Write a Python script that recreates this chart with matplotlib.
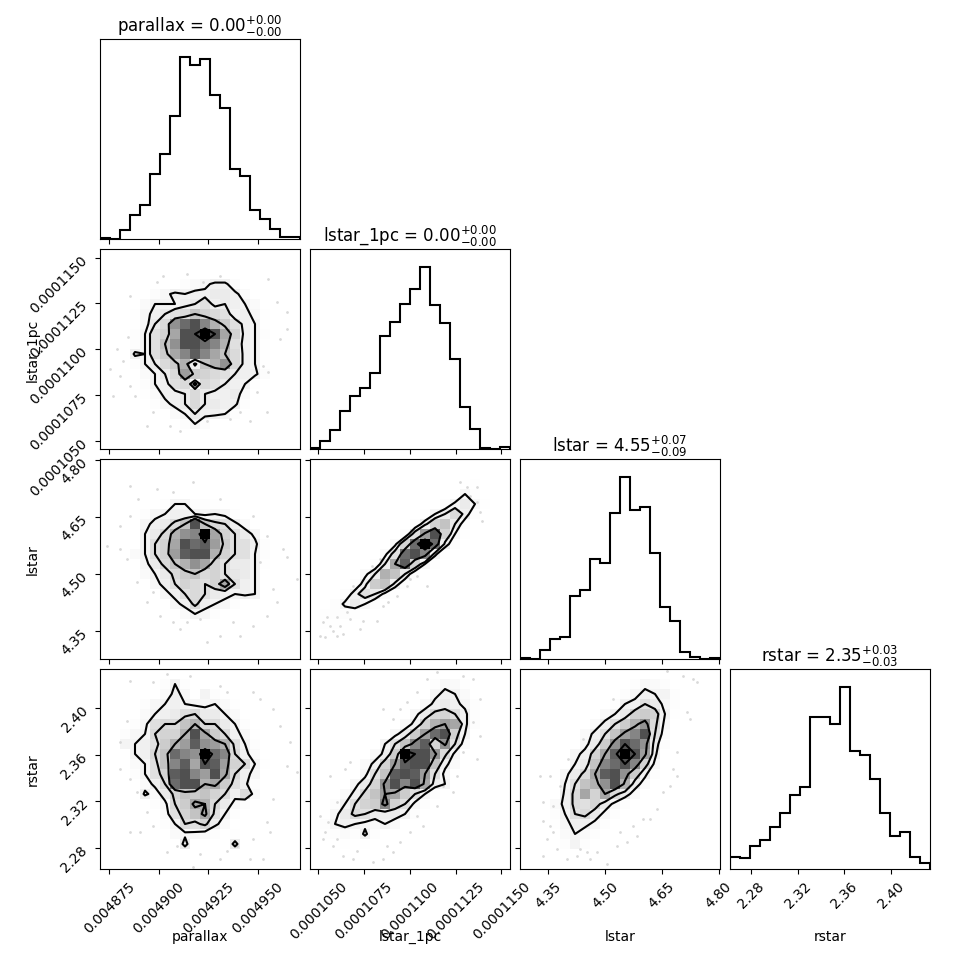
import numpy as np
import matplotlib
matplotlib.use("Agg")
import matplotlib.pyplot as plt
from matplotlib.colors import LinearSegmentedColormap
from matplotlib.ticker import MaxNLocator, ScalarFormatter

labels = ["parallax", "lstar_1pc", "lstar", "rstar"]
ranges = [(0.0048703, 0.0049714), (1.04546e-4, 1.15475e-4), (4.2761, 4.8036), (2.2619, 2.4336)]
medians = [0.0049, 0.00011, 4.55, 2.35]
err_lo = [0.00002, 0.000002, 0.09, 0.03]
err_hi = [0.00002, 0.000002, 0.07, 0.03]

# 1d histogram counts (20 bins over each range)
hist_parallax = [1, 0, 8, 21, 30, 58, 76, 110, 162, 155, 160, 128, 117, 62, 56, 26, 18, 9, 2, 2]
hist_lstar_1pc = [1, 7, 16, 32, 45, 52, 65, 96, 108, 124, 136, 155, 123, 107, 77, 36, 17, 1, 0, 2]
hist_lstar = [1, 0, 9, 20, 22, 62, 68, 99, 95, 145, 180, 148, 150, 105, 51, 38, 7, 2, 0, 1]
hist_rstar = [10, 9, 19, 24, 35, 47, 62, 69, 128, 128, 122, 153, 99, 96, 76, 47, 28, 31, 10, 5]

# 2d histogram counts, base-36 digits, top row = highest y bin
grid_parallax_lstar1pc = [
    "00000000000000000000", "00000000000000000000", "00000000000000000000",
    "00000000245773000000", "00000357677887400000", "0000466678a787640000",
    "0001578abecba6751000", "000158bjmokgda761000", "00026achootohc762000",
    "00026aejoomkga761000", "00076adhknkheb761000", "000268bdg7egjb761000",
    "0000468bidcba8773000", "0000267ab5ba87610000", "000014778b8778400000",
    "000002578b8877200000", "00000004687762000000", "00000000263000000000",
    "00000000000000000000", "00000000000000000000",
]
grid_parallax_lstar = [
    "00000000000000000000", "00000000000000000000", "00000000000000000000",
    "00000000000000000000", "00000026622100000000", "00002567765652000000",
    "0000578beoeba7400000", "000068bgjkthca850000", "00006achomnidaa72000",
    "00046acinoogcaa62000", "000058begjhca8861000", "0000468bdebca9860000",
    "0000057acbacha760000", "00000057aba876760000", "000000057b7652000000",
    "00000000465200000000", "00000000000000000000", "00000000000000000000",
    "00000000000000000000", "00000000000000000000",
]
grid_lstar1pc_lstar = [
    "00000000000000000000", "00000000000000000000", "00000000000000001000",
    "00000000000000052000", "00000000000002685100", "00000000000158b72000",
    "000000000027ce830000", "0000000002aioc510000", "000000004cmtm7200000",
    "00000004amok61000000", "00000028hnc510000000", "0000048ge82000000000",
    "000027de720000000000", "00027a84100000000000", "00268520000000000000",
    "01221000000000000000", "01100000000000000000", "00000000000000000000",
    "00000000000000000000", "00000000000000000000",
]
grid_parallax_rstar = [
    "00000000000000000000", "00000026200000000000", "00000047506200000000",
    "00002567655641000000", "00004678ab8864000000", "00025abbegbb86200000",
    "00256bccgohdb7510000", "00667adginjiga620000", "00067bemkjtmkb740000",
    "00046aeknhonicb61000", "00026acnokiohb750000", "000047bmooghda720000",
    "0000748cedecb7b40000", "0000025bdhgb85200000", "0000004aceha62000000",
    "00000026bac740000000", "00000004554201000000", "00000000800008000000",
    "00000000000000000000", "00000000000000000000",
]
grid_lstar1pc_rstar = [
    "00000000000000000000", "00000000000025410000", "00000000000057640000",
    "00000000000478752000", "000000000058bca72000", "00000000047cgih72000",
    "0000000058dimoc60000", "00000006aekncja40000", "00000047dtoojb500000",
    "0000047cinooe7400000", "000005aenonia5000000", "000058cjokoh86000000",
    "00047beihda620000000", "0026acdkca5200000000", "0058ba87862000000000",
    "02676546400000000000", "01242720000000000000", "00010100000000000000",
    "00000000000000000000", "00000000000000000000",
]
grid_lstar_rstar = [
    "00000000000000000000", "00000000000254200000", "00000000002576620000",
    "000000000267a8520000", "00000000468cdc610000", "000000047adgjb500000",
    "00000047aeikoa400000", "00000058djomj8200000", "0000057chntoi7000000",
    "0000068ekmokc5000000", "000058bhnojd72000000", "00006aegjog840000000",
    "00007bhchb8400000000", "00047bac852000000000", "00026ab8520000000000",
    "00015775200000000000", "00004642000000000000", "00002620000000000000",
    "00000000000000000000", "00000000000000000000",
]

# samples lying outside the outer contours
pts_parallax_lstar1pc_x = [0.0048989, 0.0048855, 0.0048846, 0.0048804, 0.0048880, 0.0048973, 0.0049107,
                           0.0049242, 0.0049411, 0.0049545, 0.0049554, 0.0049613, 0.0049646, 0.0049554,
                           0.0049225, 0.0049377, 0.0049528, 0.0048754, 0.0049141, 0.0049461,
                           0.0049023, 0.0049309, 0.0048787, 0.0048821, 0.0048855, 0.0048770, 0.0048939,
                           0.0049057, 0.0049360, 0.0049495, 0.0049646, 0.0049596]
pts_parallax_lstar1pc_y = [1.13654e-4, 1.12925e-4, 1.10648e-4, 1.08553e-4, 1.07460e-4, 1.06550e-4, 1.05548e-4,
                           1.06094e-4, 1.06550e-4, 1.06550e-4, 1.08735e-4, 1.10557e-4, 1.12014e-4, 1.13836e-4,
                           1.13654e-4, 1.13016e-4, 1.09100e-4, 1.08918e-4, 1.14109e-4, 1.06094e-4,
                           1.14018e-4, 1.14018e-4, 1.10010e-4, 1.09373e-4, 1.08007e-4, 1.07460e-4, 1.05821e-4,
                           1.05821e-4, 1.06185e-4, 1.07643e-4, 1.11103e-4, 1.12561e-4]
pts_parallax_lstar_x = [0.0048855, 0.0048897, 0.0049074, 0.0048804, 0.0048838, 0.0048888, 0.0048973,
                        0.0049074, 0.0049141, 0.0049208, 0.0049309, 0.0049377, 0.0049478, 0.0049545,
                        0.0049596, 0.0049646, 0.0049579, 0.0049512, 0.0049697, 0.0048737,
                        0.0048804, 0.0048855, 0.0048989, 0.0049175, 0.0049309, 0.0049478, 0.0049545,
                        0.0049630, 0.0049411, 0.0049107, 0.0049006, 0.0048939, 0.0049242]
pts_parallax_lstar_y = [4.7333, 4.6981, 4.7157, 4.5662, 4.5398, 4.4783, 4.4519, 4.3728, 4.3728, 4.3816,
                        4.3376, 4.3728, 4.3640, 4.3904, 4.4255, 4.5442, 4.4607, 4.5310, 4.4871, 4.5750,
                        4.6278, 4.6541, 4.7245, 4.7421, 4.6981, 4.6541, 4.6014, 4.5662, 4.3376, 4.3552,
                        4.3904, 4.4255, 4.3200]
pts_lstar1pc_lstar_x = [1.05275e-4, 1.05639e-4, 1.05821e-4, 1.05366e-4, 1.06003e-4, 1.06368e-4, 1.06732e-4,
                        1.07460e-4, 1.08189e-4, 1.08827e-4, 1.09828e-4, 1.10375e-4, 1.13107e-4, 1.13654e-4,
                        1.13654e-4, 1.13927e-4, 1.07916e-4, 1.08371e-4, 1.06914e-4, 1.06003e-4,
                        1.05092e-4, 1.05457e-4, 1.06185e-4, 1.06550e-4, 1.07278e-4, 1.08553e-4, 1.09282e-4,
                        1.10011e-4, 1.10921e-4, 1.13289e-4, 1.13836e-4, 1.12743e-4]
pts_lstar1pc_lstar_y = [4.3728, 4.3640, 4.3508, 4.3332, 4.3860, 4.3420, 4.3816, 4.3772, 4.3772, 4.4255,
                        4.4695, 4.4959, 4.7289, 4.7289, 4.6893, 4.6409, 4.5223, 4.5398, 4.4695, 4.3376,
                        4.3376, 4.3860, 4.3640, 4.3992, 4.3552, 4.4168, 4.4431, 4.4871, 4.4695, 4.7069,
                        4.6629, 4.7421]
pts_parallax_rstar_x = [0.0048855, 0.0049040, 0.0049158, 0.0049343, 0.0049512, 0.0049613, 0.0048838,
                        0.0048804, 0.0048855, 0.0048939, 0.0048905, 0.0049040, 0.0049208, 0.0049343,
                        0.0049461, 0.0049528, 0.0049562, 0.0049646, 0.0049697, 0.0049545, 0.0049175,
                        0.0049309, 0.0048804, 0.0048888, 0.0048855, 0.0048973, 0.0049090, 0.0049309,
                        0.0049394, 0.0049478, 0.0049579, 0.0049663, 0.0049478, 0.0048973, 0.0049579]
pts_parallax_rstar_y = [2.4236, 2.4293, 2.4279, 2.4136, 2.4078, 2.3850, 2.3892, 2.3477, 2.3392, 2.3105,
                        2.2934, 2.2762, 2.2748, 2.2776, 2.2705, 2.2705, 2.2934, 2.3506, 2.3449, 2.3020,
                        2.2633, 2.4193, 2.3706, 2.3277, 2.2934, 2.2991, 2.2819, 2.2705, 2.2819, 2.2877,
                        2.3220, 2.3706, 2.4136, 2.4222, 2.3993]
pts_lstar1pc_rstar_x = [1.08553e-4, 1.09100e-4, 1.09828e-4, 1.10375e-4, 1.11468e-4, 1.12925e-4, 1.13471e-4,
                        1.13836e-4, 1.13471e-4, 1.13654e-4, 1.12561e-4, 1.12378e-4, 1.11468e-4, 1.10739e-4,
                        1.09464e-4, 1.09100e-4, 1.08553e-4, 1.08007e-4, 1.07096e-4, 1.06003e-4, 1.05548e-4,
                        1.05639e-4, 1.06459e-4, 1.06003e-4, 1.05275e-4, 1.06732e-4,
                        1.05092e-4, 1.05366e-4, 1.05821e-4, 1.06368e-4, 1.06914e-4, 1.08735e-4, 1.10011e-4,
                        1.10375e-4, 1.11832e-4, 1.12925e-4, 1.13836e-4, 1.10921e-4, 1.09464e-4]
pts_lstar1pc_rstar_y = [2.3993, 2.3907, 2.4050, 2.4136, 2.4307, 2.4279, 2.4250, 2.4078, 2.3878, 2.3563,
                        2.3420, 2.3277, 2.3163, 2.2991, 2.2848, 2.2762, 2.2705, 2.2676, 2.2776, 2.2877,
                        2.3020, 2.3420, 2.3477, 2.3191, 2.2877, 2.3535,
                        2.3077, 2.2934, 2.2819, 2.2733, 2.2705, 2.2819, 2.2934, 2.3077, 2.3334, 2.3621,
                        2.3764, 2.4250, 2.3993]
pts_lstar_rstar_x = [4.3552, 4.3816, 4.3640, 4.3376, 4.3464, 4.3376, 4.3728, 4.4344, 4.4607, 4.4783,
                     4.5047, 4.5574, 4.5750, 4.6014, 4.6366, 4.6542, 4.6805, 4.6893, 4.7245, 4.7333,
                     4.7069, 4.5223, 4.4783, 4.4036, 4.6629,
                     4.3289, 4.3376, 4.3552, 4.3640, 4.3992, 4.4256, 4.4519, 4.5311, 4.5399, 4.5838,
                     4.6190, 4.6717, 4.6893, 4.7157, 4.7421, 4.4431]
pts_lstar_rstar_y = [2.3420, 2.3334, 2.3163, 2.3034, 2.2877, 2.2733, 2.2791, 2.2791, 2.2705, 2.2762,
                     2.2662, 2.2848, 2.2991, 2.3048, 2.3134, 2.3277, 2.3477, 2.3621, 2.3907, 2.4250,
                     2.4279, 2.4078, 2.3721, 2.3563, 2.4322,
                     2.3420, 2.3191, 2.2991, 2.2934, 2.2705, 2.2733, 2.2762, 2.2819, 2.2934, 2.2905,
                     2.3048, 2.3334, 2.3420, 2.3964, 2.4222, 2.3735]

hists = [hist_parallax, hist_lstar_1pc, hist_lstar, hist_rstar]
panels = {
    (1, 0): (grid_parallax_lstar1pc, pts_parallax_lstar1pc_x, pts_parallax_lstar1pc_y),
    (2, 0): (grid_parallax_lstar, pts_parallax_lstar_x, pts_parallax_lstar_y),
    (2, 1): (grid_lstar1pc_lstar, pts_lstar1pc_lstar_x, pts_lstar1pc_lstar_y),
    (3, 0): (grid_parallax_rstar, pts_parallax_rstar_x, pts_parallax_rstar_y),
    (3, 1): (grid_lstar1pc_rstar, pts_lstar1pc_rstar_x, pts_lstar1pc_rstar_y),
    (3, 2): (grid_lstar_rstar, pts_lstar_rstar_x, pts_lstar_rstar_y),
}

density_cmap = LinearSegmentedColormap.from_list("density_cmap", ["k", (1, 1, 1, 0)])
white_cmap = LinearSegmentedColormap.from_list("white_cmap", [(1, 1, 1), (1, 1, 1)], N=2)
levels = 1.0 - np.exp(-0.5 * np.arange(0.5, 2.1, 0.5) ** 2)


def contour_values(H):
    Hflat = np.sort(H.flatten())[::-1]
    sm = np.cumsum(Hflat)
    sm = sm / sm[-1]
    V = np.empty(len(levels))
    for k, v0 in enumerate(levels):
        sel = Hflat[sm <= v0]
        V[k] = sel[-1] if len(sel) else Hflat[0]
    V.sort()
    m = np.diff(V) == 0
    while np.any(m):
        V[np.where(m)[0][0]] *= 1.0 - 1e-4
        m = np.diff(V) == 0
    V.sort()
    return V


def hist2d(ax, rows, px, py, xr, yr):
    HT = np.array([[int(c, 36) for c in r] for r in rows[::-1]], dtype=float)
    X = np.linspace(xr[0], xr[1], HT.shape[1] + 1)
    Y = np.linspace(yr[0], yr[1], HT.shape[0] + 1)
    V = contour_values(HT)
    X1 = 0.5 * (X[1:] + X[:-1])
    Y1 = 0.5 * (Y[1:] + Y[:-1])
    dx, dy = X1[1] - X1[0], Y1[1] - Y1[0]
    X2 = np.concatenate([X1[0] + np.array([-2, -1]) * dx, X1, X1[-1] + np.array([1, 2]) * dx])
    Y2 = np.concatenate([Y1[0] + np.array([-2, -1]) * dy, Y1, Y1[-1] + np.array([1, 2]) * dy])
    H2 = np.pad(np.pad(HT, 1, mode="edge"), 1, constant_values=HT.min())

    ax.plot(px, py, "o", color="k", ms=2.0, alpha=0.15, mec="none", zorder=-1)
    ax.contourf(X2, Y2, H2, [V.min(), HT.max()], cmap=white_cmap, antialiased=False)
    ax.pcolormesh(X, Y, HT.max() - HT, cmap=density_cmap)
    ax.contour(X2, Y2, H2, V, colors="k")
    ax.set_xlim(xr)
    ax.set_ylim(yr)


K = len(labels)
fig, axes = plt.subplots(K, K, figsize=(9.7, 9.7))
lb = 1.0 / 9.7
tr = 9.3 / 9.7
fig.subplots_adjust(left=lb, bottom=lb, right=tr, top=tr, wspace=0.05, hspace=0.05)

for i in range(K):
    for j in range(K):
        ax = axes[i, j]
        if j > i:
            ax.set_frame_on(False)
            ax.set_xticks([])
            ax.set_yticks([])
            continue
        if i == j:
            edges = np.linspace(ranges[i][0], ranges[i][1], 21)
            ax.stairs(hists[i], edges, color="k", lw=1.5)
            ax.set_xlim(ranges[i])
            ax.set_ylim(0, 1.1 * max(hists[i]))
            ax.set_yticks([])
            ttl = r"${0:.2f}_{{-{1:.2f}}}^{{+{2:.2f}}}$".format(medians[i], err_lo[i], err_hi[i])
            ax.set_title("{0} = {1}".format(labels[i], ttl))
        else:
            rows, px, py = panels[(i, j)]
            hist2d(ax, rows, px, py, ranges[j], ranges[i])
            ax.yaxis.set_major_locator(MaxNLocator(5, prune="lower"))
            if j > 0:
                ax.set_yticklabels([])
            else:
                fmt = ScalarFormatter()
                fmt.set_useOffset(False)
                ax.yaxis.set_major_formatter(fmt)
                for t in ax.get_yticklabels():
                    t.set_rotation(45)
                ax.set_ylabel(labels[i])
                ax.yaxis.set_label_coords(-0.3, 0.5)

        ax.xaxis.set_major_locator(MaxNLocator(5, prune="lower"))
        if i < K - 1:
            ax.set_xticklabels([])
        else:
            fmt = ScalarFormatter()
            fmt.set_useOffset(False)
            ax.xaxis.set_major_formatter(fmt)
            for t in ax.get_xticklabels():
                t.set_rotation(45)
            ax.set_xlabel(labels[j])
            ax.xaxis.set_label_coords(0.5, -0.3)

fig.savefig("out.png", dpi=100)
